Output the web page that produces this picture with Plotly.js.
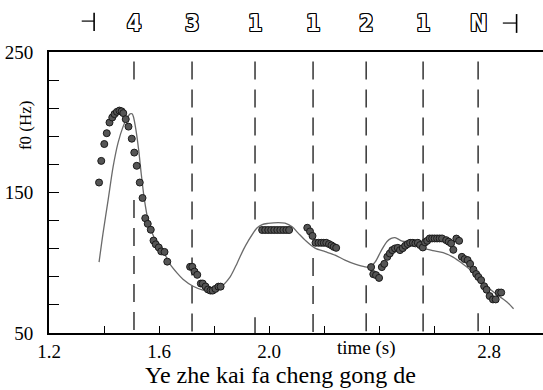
<!DOCTYPE html>
<html>
<head>
<meta charset="utf-8">
<script src="https://cdn.plot.ly/plotly-3.0.1.min.js"></script>
<style>html,body{margin:0;padding:0;background:#fff;}#chart{width:543px;height:390px;}</style>
</head>
<body>
<div id="chart"></div>
<script>
// measured f0 points (time in s, f0 in Hz)
const ptTime = [1.382,1.390,1.401,1.410,1.420,1.430,1.438,1.447,1.456,1.464,1.470,1.479,1.489,1.501,1.510,1.519,1.530,1.540,1.550,1.559,1.570,1.580,1.588,1.599,1.608,1.620,1.630,
1.713,1.721,1.729,1.739,1.752,1.759,1.769,1.778,1.787,1.795,1.805,1.816,1.824,
1.975,1.986,1.997,2.008,2.019,2.030,2.041,2.052,2.063,2.073,
2.139,2.149,2.158,2.169,2.180,2.190,2.199,2.208,2.218,2.227,2.235,2.244,
2.371,2.379,2.389,2.400,2.410,2.419,2.430,2.439,2.448,2.458,2.468,2.476,2.486,2.495,2.504,2.513,2.523,2.532,2.541,2.549,2.559,2.567,2.575,2.584,2.593,2.602,2.611,2.620,2.629,2.644,2.653,2.662,2.670,2.681,2.691,2.701,2.711,2.722,2.731,2.743,2.753,2.761,2.771,2.782,2.791,2.802,2.814,2.824,2.835,2.844];
const ptF0 = [157.1,172.5,184.5,192.2,199.8,203.4,205.8,207.4,208.3,207.8,206.5,202.2,196.9,188.3,178.4,169.0,157.1,146.1,131.7,127.7,123.5,115.8,113.1,110.9,108.1,107.7,100.8,
97.1,97.1,93.7,91.4,85.2,85.2,83.1,81.0,80.2,80.2,81.4,83.0,83.0,
123.3,123.3,123.3,123.3,123.3,123.3,123.3,123.3,123.3,123.3,
124.9,122.3,119.1,114.2,114.2,114.2,114.2,114.2,113.3,112.4,111.3,110.6,
96.9,91.9,91.2,89.2,96.9,99.2,104.2,106.6,109.0,110.2,110.6,109.0,110.4,112.1,113.3,114.2,114.2,113.8,114.2,112.6,110.9,114.5,115.6,117.3,117.3,117.3,117.3,117.3,117.3,116.1,115.0,113.8,109.2,117.2,115.6,104.2,102.6,101.9,99.2,95.1,92.0,89.9,87.6,83.3,80.8,76.3,73.9,73.9,78.8,78.8];

// modelled f0 contour
const curveTime = [1.382,1.396,1.415,1.433,1.451,1.469,1.484,1.495,1.502,1.507,1.516,1.526,1.535,1.547,1.560,1.575,1.593,1.615,1.640,1.666,1.687,1.724,1.760,1.786,1.811,1.833,1.858,1.884,1.906,1.924,1.956,1.975,1.996,2.033,2.058,2.084,2.106,2.131,2.167,2.204,2.240,2.276,2.313,2.349,2.367,2.386,2.407,2.429,2.444,2.458,2.484,2.520,2.560,2.596,2.633,2.669,2.706,2.742,2.778,2.815,2.840,2.866,2.889];
const curveF0 = [100.4,120.4,144.7,168.2,185.3,196.7,203.1,206.0,206.0,203.9,194.6,180.3,163.9,144.7,130.4,121.1,114.0,108.3,99.0,92.6,88.3,83.3,80.5,79.4,80.5,84.0,89.7,99.7,109.0,115.4,124.7,127.2,128.0,128.6,128.2,125.6,121.1,116.1,110.4,107.9,105.4,101.9,99.0,97.1,97.1,100.6,108.3,115.1,117.3,117.9,115.4,114.2,110.4,108.6,107.2,104.0,99.0,93.3,85.5,79.4,75.7,71.9,67.3];

// segment boundaries and tone labels
const boundaryTimes = [1.509,1.720,1.949,2.160,2.353,2.560,2.760];
const toneLabels = ['4','3','1','1','2','1','N'];
// visible stretches of each dashed boundary line (Hz, top -> bottom)
const boundaryVisible = [
  [[243.3,230.2],[144.7,50]],
  [[243.3,50]],
  [[243.3,129.0],[61.2,50]],
  [[243.3,130.4],[103.3,50]],
  [[243.3,110.2],[84.0,50]],
  [[243.3,50]],
  [[243.3,110.4],[64.0,50]]
];
const tierStart = 1.364, tierEnd = 2.900;

const xTickVals = [1.2,1.4,1.6,1.8,2.0,2.2,2.4,2.6,2.8];
const xTickText = ['1.2','','1.6','','2.0','','','','2.8'];
const yTickVals = [50,70,90,110,130,150,170,190,210,230,250];
const yTickText = ['50','','','','','150','','','','','250'];

const serif = 'Liberation Serif';

// dashed boundary lines as one trace with gaps
const bx = [], by = [];
boundaryTimes.forEach((t, i) => {
  boundaryVisible[i].forEach(seg => {
    bx.push(t, t, null); by.push(seg[0], seg[1], null);
  });
});

const traces = [
  {x: bx, y: by, type: 'scatter', mode: 'lines', connectgaps: false,
   line: {color: '#000', width: 1.2, dash: '18px,10px'}, hoverinfo: 'skip', showlegend: false},
  {x: curveTime, y: curveF0, type: 'scatter', mode: 'lines',
   line: {color: '#6a6a6a', width: 1.3, shape: 'spline', smoothing: 0.8}, showlegend: false},
  {x: ptTime, y: ptF0, type: 'scatter', mode: 'markers',
   marker: {size: 7, color: '#555555', line: {color: '#1a1a1a', width: 1}}, showlegend: false}
];

const outline = '1px 0 0 #000, -1px 0 0 #000, 0 1px 0 #000, 0 -1px 0 #000, 1px 1px 0 #000, -1px -1px 0 #000, 1px -1px 0 #000, -1px 1px 0 #000';
const annotations = toneLabels.map((s, i) => ({
  x: boundaryTimes[i], xref: 'x', y: 1.103, yref: 'paper', text: s, showarrow: false,
  xanchor: 'center', yanchor: 'middle',
  font: {family: 'DejaVu Sans Condensed', size: 23, weight: 'bold', color: '#fff', shadow: outline}
}));
annotations.push(
  {x: 2.356, xref: 'x', y: 0, yref: 'paper', yshift: -15, text: 'time (s)', showarrow: false,
   xanchor: 'center', yanchor: 'middle', font: {family: serif, size: 19, color: '#000'}},
  {x: 0.4696, xref: 'paper', y: 0, yref: 'paper', yshift: -42, text: 'Ye zhe kai fa cheng gong de', showarrow: false,
   xanchor: 'center', yanchor: 'middle', font: {family: serif, size: 24, color: '#000'}},
  {x: 0, xref: 'paper', xshift: -24, y: 0.74, yref: 'paper', text: 'f0 (Hz)', textangle: -90, showarrow: false,
   xanchor: 'center', yanchor: 'middle', font: {family: serif, size: 17, color: '#000'}}
);

const shapes = [
  {type: 'line', xref: 'x', yref: 'paper', x0: tierStart - 0.045, x1: tierStart, y0: 1.11, y1: 1.11, line: {color: '#000', width: 1.2}},
  {type: 'line', xref: 'x', yref: 'paper', x0: tierStart, x1: tierStart, y0: 1.075, y1: 1.14, line: {color: '#000', width: 1.6}},
  {type: 'line', xref: 'x', yref: 'paper', x0: tierEnd - 0.05, x1: tierEnd, y0: 1.103, y1: 1.103, line: {color: '#000', width: 1.2}},
  {type: 'line', xref: 'x', yref: 'paper', x0: tierEnd, x1: tierEnd, y0: 1.068, y1: 1.135, line: {color: '#000', width: 1.6}}
];

const layout = {
  width: 543, height: 390,
  margin: {l: 49, r: 0, t: 52, b: 57},
  paper_bgcolor: '#fff', plot_bgcolor: '#fff',
  showlegend: false,
  xaxis: {range: [1.2, 2.996], showgrid: false, zeroline: false,
    showline: true, linecolor: '#000', linewidth: 2, mirror: true,
    ticks: 'inside', ticklen: 7, tickwidth: 1, tickcolor: '#000',
    tickmode: 'array', tickvals: xTickVals, ticktext: xTickText,
    tickfont: {family: serif, size: 19, color: '#000'}},
  yaxis: {range: [50, 250], showgrid: false, zeroline: false,
    showline: true, linecolor: '#000', linewidth: 2, mirror: false,
    ticks: 'inside', ticklen: 10, tickwidth: 1, tickcolor: '#000',
    tickmode: 'array', tickvals: yTickVals, ticktext: yTickText,
    ticklabelstandoff: 10,
    tickfont: {family: serif, size: 19, color: '#000'}},
  annotations: annotations,
  shapes: shapes
};

Plotly.newPlot('chart', traces, layout, {displayModeBar: false, staticPlot: true});
</script>
</body>
</html>
